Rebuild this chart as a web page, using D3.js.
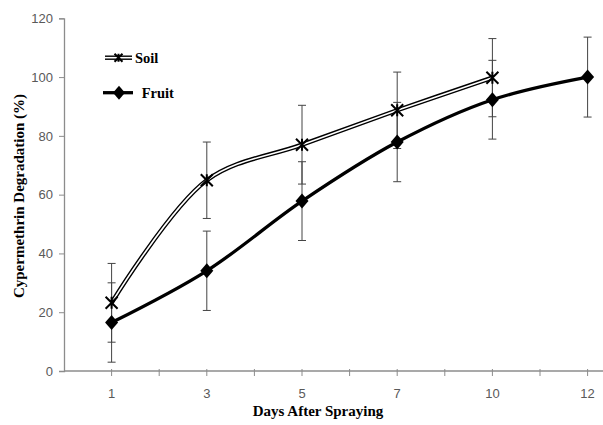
<!DOCTYPE html>
<html>
<head>
<meta charset="utf-8">
<script src="https://cdn.jsdelivr.net/npm/d3@7"></script>
<style>
  body { margin: 0; background: #fff; }
  svg { display: block; }
</style>
</head>
<body>
<svg id="chart" width="603" height="425"></svg>
<script>
// Days on the category axis (each sits on every other tick)
const days = ["1", "3", "5", "7", "10", "12"];

// Degradation (%)
const soilValues  = [23.2, 64.9, 77.0, 88.7, 99.8];
const soilErrors  = [13.4, 13.0, 13.4, 13.0, 13.3];
const fruitValues = [16.5, 34.1, 57.8, 77.9, 92.3, 100.0];
const fruitErrors = [13.5, 13.5, 13.4, 13.5, 13.4, 13.6];

const yTicks = [0, 20, 40, 60, 80, 100, 120];

const svg = d3.select("#chart");
const width = 603;

// x: half-step units, point i sits at 2i+1
const x = d3.scaleLinear().domain([0, 12]).range([64, 64 + 12 * 47.6]);
const y = d3.scaleLinear().domain([0, 120]).range([371, 18.3]);
const px = i => x(2 * i + 1);

const axisColor = "#8c8c8c";

// Y axis
const yAxis = svg.append("g")
  .attr("transform", `translate(${x(0)},0)`)
  .call(d3.axisLeft(y).tickValues(yTicks).tickSize(5).tickPadding(6));
yAxis.select(".domain").attr("stroke", axisColor).attr("stroke-width", 1.3);
yAxis.selectAll(".tick line").attr("stroke", axisColor);
yAxis.selectAll(".tick text")
  .attr("fill", "#595959")
  .style("font-family", "'Liberation Sans', Arial, sans-serif")
  .style("font-size", "13px");

// X axis (ticks at every half step, labels on odd ones)
const xg = svg.append("g").attr("transform", `translate(0,${y(0)})`);
xg.append("line")
  .attr("x1", x(0)).attr("x2", width)
  .attr("stroke", axisColor).attr("stroke-width", 1.3);
xg.selectAll("line.tick")
  .data(d3.range(1, 12))
  .join("line")
  .attr("class", "tick")
  .attr("x1", d => x(d)).attr("x2", d => x(d))
  .attr("y1", -2).attr("y2", 5)
  .attr("stroke", axisColor);
xg.selectAll("text")
  .data(days)
  .join("text")
  .attr("x", (d, i) => px(i))
  .attr("y", 27)
  .attr("text-anchor", "middle")
  .attr("fill", "#595959")
  .style("font-family", "'Liberation Sans', Arial, sans-serif")
  .style("font-size", "13px")
  .text(d => d);

// Axis titles
svg.append("text")
  .attr("x", 318).attr("y", 416)
  .attr("text-anchor", "middle")
  .style("font-family", "'Liberation Serif', 'Times New Roman', serif")
  .style("font-weight", "bold")
  .style("font-size", "15px")
  .text("Days After Spraying");

svg.append("text")
  .attr("transform", "translate(24,196) rotate(-90)")
  .attr("text-anchor", "middle")
  .style("font-family", "'Liberation Serif', 'Times New Roman', serif")
  .style("font-weight", "bold")
  .style("font-size", "15px")
  .text("Cypermethrin Degradation (%)");

// Error bars
function errorBars(values, errors) {
  const g = svg.append("g").attr("stroke", "#444").attr("stroke-width", 1);
  values.forEach((v, i) => {
    const cx = px(i), top = y(v + errors[i]), bot = y(v - errors[i]);
    g.append("line").attr("x1", cx).attr("x2", cx).attr("y1", top).attr("y2", bot);
    g.append("line").attr("x1", cx - 4).attr("x2", cx + 4).attr("y1", top).attr("y2", top);
    g.append("line").attr("x1", cx - 4).attr("x2", cx + 4).attr("y1", bot).attr("y2", bot);
  });
}
errorBars(soilValues, soilErrors);
errorBars(fruitValues, fruitErrors);

const line = d3.line()
  .x((d, i) => px(i))
  .y(d => y(d))
  .curve(d3.curveCatmullRom.alpha(0.5));

// Soil: double line
svg.append("path").datum(soilValues).attr("d", line)
  .attr("fill", "none").attr("stroke", "#000").attr("stroke-width", 4.4);
svg.append("path").datum(soilValues).attr("d", line)
  .attr("fill", "none").attr("stroke", "#fff").attr("stroke-width", 1.6);

// Fruit: thick line
svg.append("path").datum(fruitValues).attr("d", line)
  .attr("fill", "none").attr("stroke", "#000").attr("stroke-width", 3.3);

// Markers
function star(g, cx, cy, r) {
  g.append("path")
    .attr("d", `M${cx - r},${cy - r}L${cx + r},${cy + r}M${cx - r},${cy + r}L${cx + r},${cy - r}M${cx},${cy - r}L${cx},${cy + r}`)
    .attr("stroke", "#000").attr("stroke-width", 2).attr("fill", "none");
}
function diamond(g, cx, cy, w, h) {
  g.append("path")
    .attr("d", `M${cx},${cy - h}L${cx + w},${cy}L${cx},${cy + h}L${cx - w},${cy}Z`)
    .attr("fill", "#000");
}

const marks = svg.append("g");
soilValues.forEach((v, i) => star(marks, px(i), y(v), 6));
fruitValues.forEach((v, i) => diamond(marks, px(i), y(v), 6.5, 7.5));

// Legend
const lg = svg.append("g");
lg.append("line").attr("x1", 105).attr("x2", 132).attr("y1", 57.7).attr("y2", 57.7)
  .attr("stroke", "#000").attr("stroke-width", 4.4);
lg.append("line").attr("x1", 105).attr("x2", 132).attr("y1", 57.7).attr("y2", 57.7)
  .attr("stroke", "#fff").attr("stroke-width", 1.6);
star(lg, 118.5, 57.7, 4);
lg.append("text").attr("x", 135).attr("y", 62.5)
  .style("font-family", "'Liberation Serif', 'Times New Roman', serif")
  .style("font-weight", "bold").style("font-size", "14.5px")
  .text("Soil");

lg.append("line").attr("x1", 103).attr("x2", 133).attr("y1", 92.7).attr("y2", 92.7)
  .attr("stroke", "#000").attr("stroke-width", 3.3);
diamond(lg, 119, 92.7, 6, 7);
lg.append("text").attr("x", 141.7).attr("y", 97.5)
  .style("font-family", "'Liberation Serif', 'Times New Roman', serif")
  .style("font-weight", "bold").style("font-size", "14.5px")
  .text("Fruit");
</script>
</body>
</html>
